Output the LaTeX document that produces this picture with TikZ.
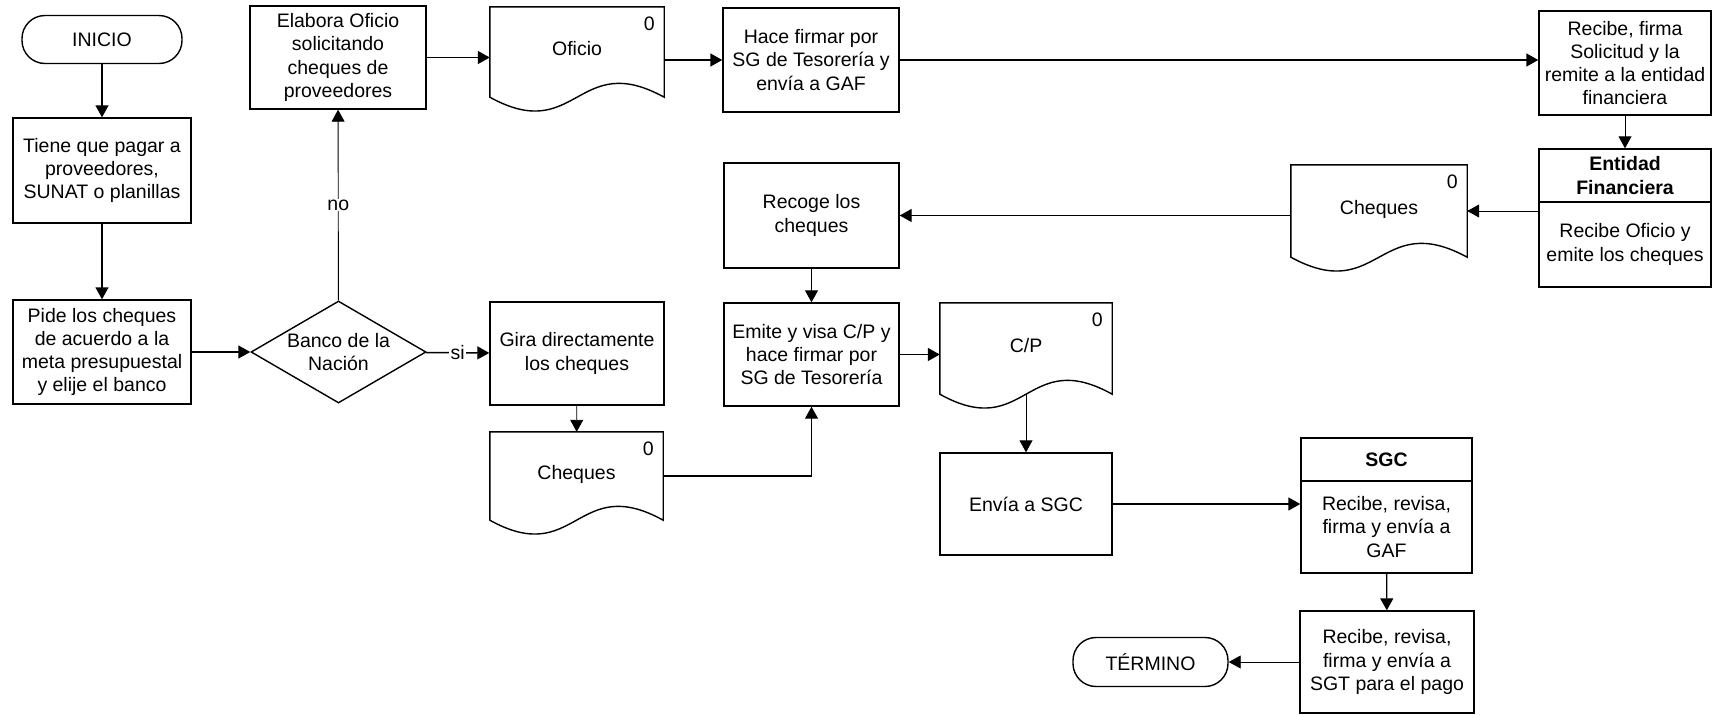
\documentclass[tikz,border=0pt]{standalone}
\usepackage{fontspec}
\setmainfont{Liberation Sans}
\usetikzlibrary{shapes.geometric, arrows.meta, calc, positioning}

% document symbol drawn round a named node, with its "0" mark
\newcommand{\docwave}[1]{%
	\draw[docline] (#1.south west) -- (#1.north west) -- (#1.north east) -- (#1.south east)
		.. controls ($(#1.south)+(0,-48)$) and ($(#1.south)+(0,48)$) .. (#1.south west) -- cycle;
	\node[zero] (#1z) at ($(#1.north east)+(-15,17)$) {0};%
}

\begin{document}
\begin{tikzpicture}[x=1pt, y=-1pt,
		txt/.style={font=\fontsize{19.5}{23.3}\selectfont},
		box/.style={draw, rectangle, line width=1.4pt, minimum width=176pt, minimum height=104pt, inner sep=3pt, align=center, txt},
		headbox/.style={box, font=\fontsize{19.5}{23.3}\selectfont\bfseries},
		term/.style={draw, rectangle, rounded corners=23pt, line width=1.4pt, minimum width=160pt, minimum height=48pt, txt},
		decision/.style={draw, diamond, shape aspect=1.7, line width=1.4pt, minimum width=175pt, minimum height=102pt, inner sep=0pt, align=center, txt},
		docnode/.style={rectangle, minimum width=174pt, minimum height=90pt, inner sep=0pt, align=center, txt},
		docline/.style={line width=1.4pt},
		zero/.style={inner sep=0pt, txt},
		branch/.style={fill=white, inner sep=1pt, txt},
		arrow/.style={-{Triangle[length=12pt, width=13pt]}, line width=1.4pt},
		thinarrow/.style={arrow, line width=0.9pt}
		]
		\useasboundingbox (0,0) rectangle (1713,715);
		
		% Left column: start and request
		\node[term] (inicio) at (102, 39.5) {INICIO};
		\node[box, minimum width=178pt, minimum height=105pt] (tiene) at (102, 170.5) {Tiene que pagar a\\ proveedores,\\ SUNAT o planillas};
		\node[box, minimum width=178pt] (pide) at (102, 352) {Pide los cheques\\ de acuerdo a la\\ meta presupuestal\\ y elije el banco};
		\node[decision] (banco) at (338.5, 352) {Banco de la\\ Nación};
		
		% Top row: Oficio to the entidad financiera
		\node[box, minimum height=103pt] (elabora) at (338, 57.5) {Elabora Oficio\\ solicitando\\ cheques de\\ proveedores};
		\node[docnode] (oficio) at (577, 52) {\raisebox{7pt}{Oficio}};
		\docwave{oficio}
		\node[box] (hace) at (811, 60) {Hace firmar por\\ SG de Tesorería y\\ envía a GAF};
		\node[box, minimum width=172pt] (recibe) at (1625, 63) {Recibe, firma\\ Solicitud y la\\ remite a la entidad\\ financiera};
		\node[headbox, minimum width=172pt, minimum height=53pt] (entH) at (1625, 175.5) {Entidad\\ Financiera};
		\node[box, minimum width=172pt, minimum height=85pt] (entB) at (1625, 244.5) {Recibe Oficio y\\ emite los cheques};
		
		% Middle row: cheques back to Tesorería
		\node[docnode, minimum width=176pt, minimum height=92pt] (chq1) at (1379, 211) {\raisebox{7pt}{Cheques}};
		\docwave{chq1}
		\node[box, minimum width=175pt, minimum height=105pt] (recoge) at (811.5, 215.5) {Recoge los\\ cheques};
		
		% Banco de la Nación branch
		\node[box, minimum width=174pt, minimum height=103pt] (gira) at (577, 353.5) {Gira directamente\\ los cheques};
		\node[docnode, minimum width=173pt, minimum height=88pt] (chq2) at (576.5, 476) {\raisebox{7pt}{Cheques}};
		\docwave{chq2}
		\node[box, minimum width=175pt, minimum height=103pt] (emite) at (811.5, 354.5) {Emite y visa C/P y\\ hace firmar por\\ SG de Tesorería};
		\node[docnode, minimum width=172pt, minimum height=91pt] (cp) at (1026, 348.5) {\raisebox{7pt}{C/P}};
		\docwave{cp}
		
		% Bottom: SGC and end
		\node[box, minimum width=172pt, minimum height=102pt] (envia) at (1026, 504) {Envía a SGC};
		\node[headbox, minimum width=171pt, minimum height=43pt] (sgcH) at (1386.5, 459.5) {SGC};
		\node[box, minimum width=171pt, minimum height=92pt] (sgcB) at (1386.5, 527) {Recibe, revisa,\\ firma y envía a\\ GAF};
		\node[box, minimum width=174pt, minimum height=102pt] (recsgt) at (1387, 662) {Recibe, revisa,\\ firma y envía a\\ SGT para el pago};
		\node[term, minimum width=155pt, minimum height=49pt] (termino) at (1150.5, 662) {TÉRMINO};
		
		% Connectors
		\draw[arrow] (inicio) -- (tiene);
		\draw[arrow] (tiene) -- (pide);
		\draw[arrow] (pide) -- (banco);
		\draw[thinarrow] (banco) -- (elabora) node[midway, branch] (no) {no};
		\draw[arrow] (banco) -- (gira) node[midway, branch] (si) {si};
		\draw[arrow] (elabora.east) -- (elabora.east -| oficio.west);
		\draw[arrow] (oficio.east |- hace.west) -- (hace.west);
		\draw[arrow] (hace) -- (hace -| recibe.west);
		\draw[thinarrow] (recibe) -- (entH);
		\draw[thinarrow] (entB.west |- chq1.east) -- (chq1.east);
		\draw[arrow] (chq1.west |- recoge.east) -- (recoge.east);
		\draw[thinarrow] (recoge) -- (emite);
		\draw[thinarrow] (gira) -- (chq2);
		\draw[arrow] (chq2.east) -| (emite.south);
		\draw[arrow] (emite) -- (emite -| cp.west);
		\draw[thinarrow] (cp.south) -- (envia);
		\draw[arrow] (envia) -- (envia -| sgcB.west);
		\draw[arrow] (sgcB) -- (recsgt);
		\draw[thinarrow] (recsgt) -- (termino);
		
	\end{tikzpicture}
\end{document}
